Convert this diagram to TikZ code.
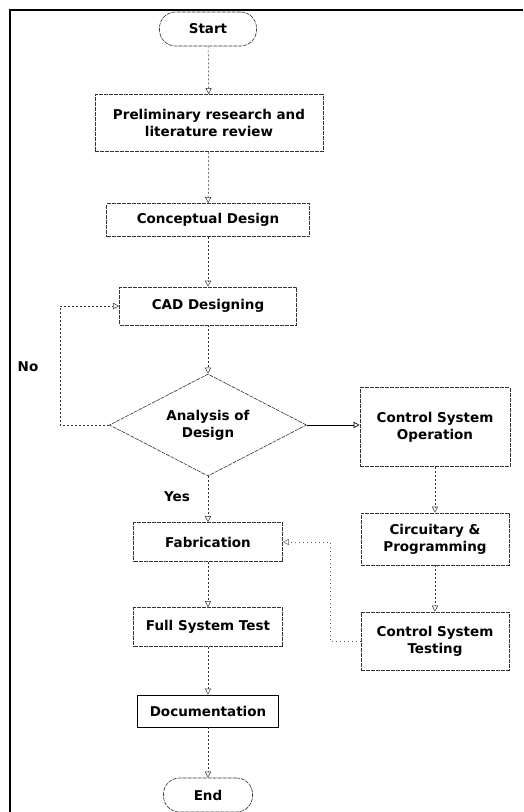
\documentclass[tikz,border=0pt]{standalone}
\usepackage{fontspec}
\setmainfont{DejaVu Sans}
\usetikzlibrary{arrows.meta,shapes.geometric}
\begin{document}
\begin{tikzpicture}[x=1pt,y=-1pt,
  every node/.style={font=\fontsize{13.5}{17}\selectfont\bfseries, align=center, inner sep=0pt},
  box/.style={draw=black!80, line width=0.6pt, dash pattern=on 4pt off 1pt},
  term/.style={box, rounded corners=16pt},
  flow/.style={draw=black!80, line width=0.5pt, dash pattern=on 2pt off 2pt, -{Triangle[open,length=6pt,width=6pt]}},
  solidflow/.style={draw=black, line width=0.6pt, -{Triangle[open,length=6pt,width=6pt]}},
  lbl/.style={font=\fontsize{13.5}{15}\selectfont\bfseries}
]
\useasboundingbox (0,0) rectangle (523,812);
\draw[line width=1.6pt] (10,812) -- (10,10) -- (523,10);

\node[term, minimum width=97, minimum height=34] (start) at (208,29) {Start};
\node[box, minimum width=228, minimum height=57] (prelim) at (209,123) {Preliminary research and\\literature review};
\node[box, minimum width=203, minimum height=33] (concept) at (208,220) {Conceptual Design};
\node[box, minimum width=177, minimum height=38] (cad) at (208,306) {CAD Designing};
\node[box, shape=diamond, shape aspect=2, minimum width=197, minimum height=102] (dia) at (208,425) {Analysis of\\Design};
\node[box, minimum width=149, minimum height=39] (fab) at (208,542) {Fabrication};
\node[box, minimum width=149, minimum height=39] (fst) at (208,627) {Full System Test};
\node[draw=black, line width=0.7pt, minimum width=141, minimum height=32] (doc) at (208,711) {Documentation};
\node[term, minimum width=89, minimum height=34] (end) at (208,795) {End};

\node[box, minimum width=150, minimum height=79] (cso) at (435,427) {Control System\\Operation};
\node[box, minimum width=148, minimum height=52] (circ) at (435,539) {Circuitary \&\\Programming};
\node[box, minimum width=148, minimum height=58] (cst) at (435,641) {Control System\\Testing};

\node[lbl] (no) at (28,367) {No};
\node[lbl] (yes) at (177,497) {Yes};

\coordinate (nocorner) at (60,425);
\coordinate (tcorner) at (330,641);

\draw[flow] (start) -- (prelim);
\draw[flow] (prelim) -- (concept);
\draw[flow] (concept) -- (cad);
\draw[flow] (cad) -- (dia);
\draw[flow] (dia.south) -- (fab);
\draw[flow] (fab) -- (fst);
\draw[flow] (fst) -- (doc);
\draw[flow] (doc) -- (end);
\draw[flow] (dia.west) -- (nocorner) |- (cad.west);
\draw[solidflow] (dia.east) -- (dia.east -| cso.west);
\draw[flow] (cso) -- (circ);
\draw[flow] (circ) -- (cst);
\draw[flow, draw=black!60, dash pattern=on 1pt off 3pt] (cst.west) -- (tcorner) |- (fab.east);
\end{tikzpicture}
\end{document}
